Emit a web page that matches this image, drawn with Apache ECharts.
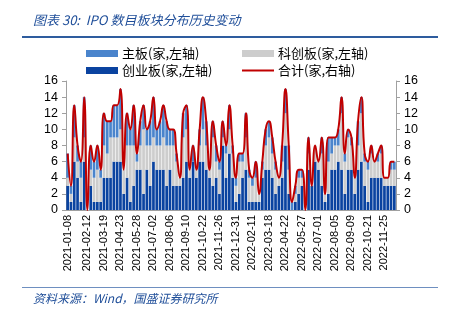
<!DOCTYPE html>
<html>
<head>
<meta charset="utf-8">
<script src="https://cdn.jsdelivr.net/npm/echarts@6/dist/echarts.min.js"></script>
<style>
html,body{margin:0;padding:0;background:#fff;}
#c{width:450px;height:322px;}
</style>
</head>
<body>
<div id="c"></div>
<script>
var categories = [
'2021-01-08','2021-01-15','2021-01-22','2021-01-29','2021-02-05','2021-02-10','2021-02-12','2021-02-19','2021-02-26','2021-03-05',
'2021-03-12','2021-03-19','2021-03-26','2021-04-02','2021-04-09','2021-04-16','2021-04-23','2021-04-30','2021-05-07','2021-05-14',
'2021-05-21','2021-05-28','2021-06-04','2021-06-11','2021-06-18','2021-06-25','2021-07-02','2021-07-09','2021-07-16','2021-07-23',
'2021-07-30','2021-08-06','2021-08-13','2021-08-20','2021-08-27','2021-09-03','2021-09-10','2021-09-17','2021-09-24','2021-10-01',
'2021-10-15','2021-10-22','2021-10-29','2021-11-05','2021-11-12','2021-11-19','2021-11-26','2021-12-03','2021-12-10','2021-12-17',
'2021-12-24','2021-12-31','2022-01-07','2022-01-14','2022-01-21','2022-01-28','2022-02-11','2022-02-18','2022-02-25','2022-03-04',
'2022-03-11','2022-03-18','2022-03-25','2022-04-01','2022-04-08','2022-04-15','2022-04-22','2022-04-29','2022-05-06','2022-05-13',
'2022-05-20','2022-05-27','2022-06-03','2022-06-10','2022-06-17','2022-06-24','2022-07-01','2022-07-08','2022-07-15','2022-07-22',
'2022-07-29','2022-08-05','2022-08-12','2022-08-19','2022-08-26','2022-09-02','2022-09-09','2022-09-16','2022-09-23','2022-09-30',
'2022-10-14','2022-10-21','2022-10-28','2022-11-04','2022-11-11','2022-11-18','2022-11-25','2022-12-02','2022-12-09','2022-12-16'
];
var tickLabels = ['2021-01-08','2021-02-12','2021-03-19','2021-04-23','2021-05-28','2021-07-02','2021-08-06','2021-09-10','2021-10-22','2021-11-26',
'2021-12-31','2022-02-11','2022-03-18','2022-04-22','2022-05-27','2022-07-01','2022-08-05','2022-09-09','2022-10-21','2022-11-25'];
var yTicks = [0,2,4,6,8,10,12,14,16];

// 创业板
var chinext = [3,1,6,4,1,6,0,3,1,1, 1,4,4,4,6,6,6,2,4,1, 3,5,5,2,5,3,6,5,5,5, 3,5,3,3,3,4,6,4,6,4, 6,6,5,4,3,4,2,8,4,7, 4,1,2,4,5,1,1,1,1,4, 5,5,4,2,3,4,8,2,0,1, 2,3,0,5,3,6,5,3,1,2, 5,5,6,5,2,5,5,2,5,6, 3,1,4,4,4,4,3,3,3,3];
// 科创板
var star = [1,1,3,2,3,3,0,2,3,4, 3,4,3,5,3,3,4,3,4,7, 5,1,3,8,3,5,3,3,3,4, 5,3,5,3,1,5,4,1,0,1, 2,4,3,1,6,2,3,1,3,3, 3,2,4,2,4,3,2,3,1,1, 3,4,3,3,1,2,4,3,0,1, 2,1,0,2,0,2,1,4,1,4, 2,3,2,7,4,4,3,2,3,6, 3,4,3,2,2,3,1,1,2,2];
// 主板
var mainBoard = [3,1,4,2,2,5,0,3,2,3, 1,4,4,2,4,4,5,0,4,2, 5,1,3,3,2,3,5,2,3,4, 3,2,2,1,0,3,3,0,2,0, 2,4,3,0,2,2,1,2,1,3, 1,1,1,1,3,1,1,2,0,1, 2,2,2,1,0,2,3,3,1,1, 1,1,0,2,0,0,0,2,0,3, 2,1,2,2,1,1,1,0,3,2, 1,1,1,0,1,1,0,0,1,1];
// 合计
var total = [7,3,13,8,6,14,0,8,6,8, 5,12,11,11,13,13,15,5,12,10, 13,7,11,13,10,11,14,10,11,13, 11,10,10,7,4,12,13,5,8,5, 10,14,11,5,11,8,6,11,8,13, 8,4,7,7,12,5,4,6,2,6, 10,11,9,6,4,8,15,8,1,3, 5,5,0,9,3,8,6,9,2,9, 9,9,10,14,7,10,9,4,11,14, 7,6,8,6,7,8,4,4,6,6];

var names = ['主板(家,左轴)','科创板(家,左轴)','创业板(家,左轴)','合计(家,右轴)'];
var colors = {main:'#4A84CC', star:'#CDCDCD', chinext:'#0A43A0', total:'#C00000'};

var cjk = '"Noto Sans CJK SC", sans-serif';
var latin = '"Liberation Sans", Arial, sans-serif';

var chart = echarts.init(document.getElementById('c'), null, {renderer:'canvas'});

function legendItem(name, left, top, isLine){
  return {
    data:[name], left:left, top:top, orient:'horizontal',
    itemWidth:32, itemHeight:isLine?2:7, itemGap:0,
    icon:'rect',
    textStyle:{fontFamily:cjk, fontSize:13, color:'#000', padding:[0,0,0,-1]},
    padding:0, selectedMode:false
  };
}

var yAxisCommon = {
  type:'value', min:0, max:16, interval:2,
  axisLine:{show:true, lineStyle:{color:'#A0A0A0', width:1}},
  axisTick:{show:true, length:4, lineStyle:{color:'#A0A0A0'}},
  splitLine:{show:false},
  axisLabel:{fontFamily:latin, fontSize:12.5, color:'#000', margin:8}
};

chart.setOption({
  animation:false,
  backgroundColor:'#fff',
  graphic:[
    {type:'text', left:33, top:14, style:{text:'图表 30:  IPO 数目板块分布历史变动', font:'italic 13px "Noto Sans CJK SC", sans-serif', fill:'#1F4E99'}},
    {type:'rect', shape:{x:22, y:36, width:416, height:2}, style:{fill:'#2E5C9E'}},
    {type:'rect', shape:{x:22, y:287, width:416, height:1}, style:{fill:'#6E8FC0'}},
    {type:'text', left:33, top:292, style:{text:'资料来源：Wind，国盛证券研究所', font:'italic 12px "Noto Sans CJK SC", sans-serif', fill:'#1F4E99'}}
  ],
  legend:[
    legendItem(names[0], 86, 47, false),
    legendItem(names[1], 242, 47, false),
    legendItem(names[2], 86, 64, false),
    legendItem(names[3], 242, 64, true)
  ],
  grid:{left:66, right:54, top:81, bottom:112},
  xAxis:{
    type:'category', data:categories, boundaryGap:true,
    axisLine:{show:true, lineStyle:{color:'#A0A0A0'}},
    axisTick:{show:false},
    axisLabel:{
      rotate:90, fontFamily:latin, fontSize:11, color:'#000', margin:5,
      interval:function(idx, val){ return tickLabels.indexOf(val) >= 0; }
    }
  },
  yAxis:[
    Object.assign({}, yAxisCommon, {position:'left'}),
    Object.assign({}, yAxisCommon, {position:'right'})
  ],
  series:[
    {name:names[2], type:'bar', stack:'s', data:chinext, itemStyle:{color:colors.chinext}, barCategoryGap:'18%'},
    {name:names[1], type:'bar', stack:'s', data:star, itemStyle:{color:colors.star}},
    {name:names[0], type:'bar', stack:'s', data:mainBoard, itemStyle:{color:colors.main}},
    {name:names[3], type:'line', yAxisIndex:1, data:total, smooth:0.5, symbol:'none',
      lineStyle:{color:colors.total, width:2}, itemStyle:{color:colors.total}, z:5}
  ]
});
</script>
</body>
</html>
